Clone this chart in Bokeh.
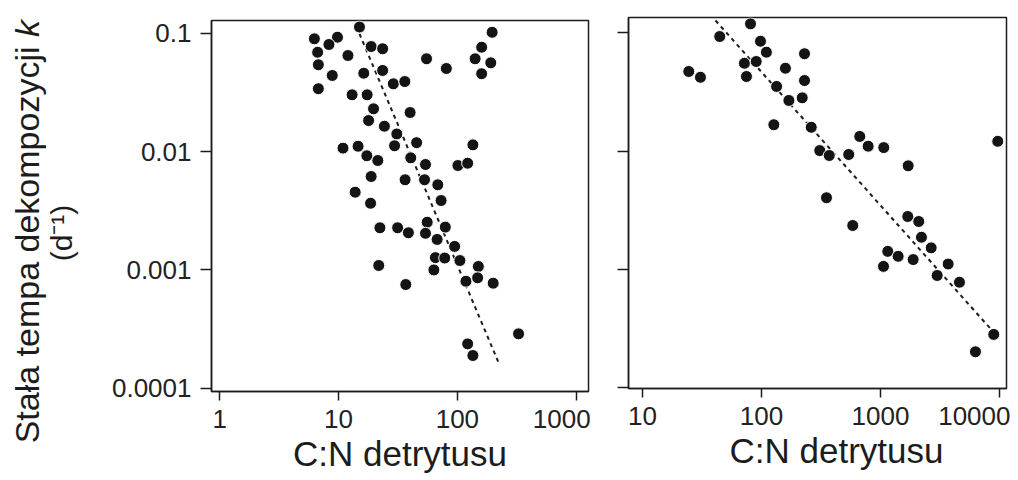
import math
from bokeh.plotting import figure
from bokeh.models import Range1d, FixedTicker, Title, Label
from bokeh.layouts import row
from bokeh.embed import file_html
from bokeh.resources import INLINE

# ---------------- data ----------------
y_ticks = [0.0001, 0.001, 0.01, 0.1]
y_tick_labels = ["0.0001", "0.001", "0.01", "0.1"]
left_x_ticks = [1, 10, 100, 1000]
left_x_tick_labels = ["1", "10", "100", "1000"]
right_x_ticks = [10, 100, 1000, 10000]
right_x_tick_labels = ["10", "100", "1000", "10000"]

left_cn = [15.0, 6.26, 9.79, 8.30, 6.67, 12.0, 6.76, 8.85, 6.76, 18.8,
           23.5, 16.3, 23.5, 28.9, 36.1, 13.0, 17.4, 19.7, 40.0, 17.9,
           24.3, 30.9, 29.6, 45.4, 10.9, 14.6, 17.3, 21.4, 40.5, 53.9,
           18.8, 36.3, 52.9, 68.4, 55.0, 80.7, 196, 160, 141, 191,
           160, 135, 101, 122, 13.8, 18.6, 72.9, 22.3, 31.4, 38.7,
           55.7, 79.1, 53.9, 67.5, 94.8, 65.3, 78.2, 105, 63.4, 150,
           21.8, 36.8, 118, 148, 200, 327, 122, 135]
left_k = [0.113, 0.0898, 0.0927, 0.0804, 0.0692, 0.0649, 0.0542, 0.0440, 0.0340, 0.0773,
          0.0740, 0.0460, 0.0485, 0.0374, 0.0391, 0.0302, 0.0302, 0.0230, 0.0214, 0.0183,
          0.0164, 0.0141, 0.0112, 0.0119, 0.0107, 0.0111, 0.00922, 0.00841, 0.00886, 0.00778,
          0.00616, 0.00578, 0.00578, 0.00524, 0.0609, 0.0504, 0.102, 0.0763, 0.0609, 0.0563,
          0.0455, 0.0114, 0.00763, 0.00798, 0.00454, 0.00366, 0.00386, 0.00227, 0.00227, 0.00206,
          0.00253, 0.00230, 0.00204, 0.00181, 0.00158, 0.00127, 0.00126, 0.00120, 0.00100, 0.00107,
          0.00109, 0.000752, 0.000802, 0.000857, 0.000772, 0.000288, 0.000237, 0.000189]
left_fit_cn = [15.0, 223]
left_fit_k = [0.099, 0.000163]

right_cn = [80.9, 44.6, 98.1, 110, 230, 71.9, 90.3, 24.5, 30.7, 74.8,
            159, 230, 134, 170, 220, 127, 262, 670, 788, 1066,
            309, 371, 541, 1709, 9676, 352, 585, 1696, 2098, 2211,
            2668, 1152, 1408, 1883, 1060, 3706, 2996, 4612, 8958, 6285]
right_k = [0.119, 0.0930, 0.0849, 0.0686, 0.0665, 0.0553, 0.0572, 0.0471, 0.0421, 0.0427,
           0.0502, 0.0395, 0.0352, 0.0268, 0.0282, 0.0167, 0.0159, 0.0133, 0.0110, 0.0107,
           0.0101, 0.00918, 0.00936, 0.00751, 0.0121, 0.00403, 0.00235, 0.00280, 0.00254, 0.00187,
           0.00152, 0.00142, 0.00129, 0.00121, 0.00106, 0.00111, 0.000888, 0.000779, 0.000282, 0.000201]
right_fit_cn = [41.1, 8684]
right_fit_k = [0.127, 0.000304]

x_title = "C:N detrytusu"
y_title_main = "Stała tempa dekompozycji"
y_title_var = "k"
y_title_unit = "(d\u207b\u00b9)"

# ---------------- layout / style ----------------
FONT = "Liberation Sans"
INK = "#1c1c1c"
H = 479
# in the original the outermost tick label of each panel is pulled inward
# so that it does not run past the plot edge
left_label_pos = [1, 10, 100, 755]
right_label_pos = [10, 100, 1000, 6300]


def no_align(p):
    try:
        p.frame_align = False
    except AttributeError:
        pass


def style_axis(ax, standoff):
    ax.major_tick_in = 0
    ax.minor_tick_in = 0
    ax.major_tick_line_color = INK
    ax.major_tick_line_width = 1.5
    ax.minor_tick_line_color = INK
    ax.minor_tick_line_width = 1.5
    ax.axis_line_color = INK
    ax.axis_line_width = 1.5
    ax.major_label_text_font = FONT
    ax.major_label_text_font_size = "26px"
    ax.major_label_text_color = "#222222"
    ax.major_label_standoff = standoff


def make_panel(width, borders, xr, yr, xt, xt_labels, label_pos, show_y_labels,
               title_align, title_offset, cn, k, fit_cn, fit_k):
    left, right, top, bottom = borders
    p = figure(width=width, height=H, x_axis_type="log", y_axis_type="log",
               x_range=Range1d(*xr), y_range=Range1d(*yr),
               toolbar_location=None, output_backend="svg",
               min_border_left=left, min_border_right=right,
               min_border_top=top, min_border_bottom=bottom,
               outline_line_color=INK, outline_line_width=1.5,
               background_fill_color="white", border_fill_color="white")
    no_align(p)
    p.grid.visible = False
    # x axis: tick marks at the decades (drawn as minor ticks), labels at label_pos
    xa = p.xaxis[0]
    xa.ticker = FixedTicker(ticks=label_pos, minor_ticks=xt)
    xa.major_label_overrides = {pos: lab for pos, lab in zip(label_pos, xt_labels)}
    style_axis(xa, 9)
    xa.major_tick_out = 0
    xa.major_tick_line_color = None
    xa.minor_tick_out = 9
    ya = p.yaxis[0]
    ya.ticker = FixedTicker(ticks=y_ticks, minor_ticks=[])
    ya.minor_tick_out = 0
    ya.major_tick_out = 11
    if show_y_labels:
        ya.major_label_overrides = {t: lab for t, lab in zip(y_ticks, y_tick_labels)}
        style_axis(ya, 9)
    else:
        ya.major_label_overrides = {t: "" for t in y_ticks}
        style_axis(ya, 12)
    p.line(fit_cn, fit_k, line_dash="4 4", line_width=2, line_color=INK)
    p.scatter(cn, k, size=12, fill_color="#141414", line_color="white", line_width=1)
    p.add_layout(Title(text=x_title, align=title_align, offset=title_offset,
                       text_font=FONT, text_font_size="35px", text_font_style="normal",
                       text_color=INK, standoff=3), "below")
    return p


# strip for the y-axis title (data units = pixels, y measured from the bottom)
W0 = 108
lab = figure(width=W0, height=H, x_range=Range1d(0, W0), y_range=Range1d(0, H),
             toolbar_location=None, output_backend="svg", min_border=0,
             x_axis_location=None, y_axis_location=None, outline_line_color=None)
no_align(lab)
lab.grid.visible = False
lab.add_layout(Label(x=26, y=H - 46, text=y_title_main, angle=math.pi / 2,
                     text_align="right", text_baseline="alphabetic",
                     text_font=FONT, text_font_size="34px", text_color=INK))
lab.add_layout(Label(x=26, y=H - 36.5, text=y_title_var, angle=math.pi / 2,
                     text_align="left", text_baseline="alphabetic",
                     text_font=FONT, text_font_size="34px", text_font_style="italic",
                     text_color=INK))
lab.add_layout(Label(x=61, y=H - 232.5, text=y_title_unit, angle=math.pi / 2,
                     text_align="center", text_baseline="alphabetic",
                     text_font=FONT, text_font_size="30px", text_color=INK))

p1 = make_panel(492, (99, 12, 20, H - 391), (0.853, 1268), (9.38e-5, 0.1283),
                left_x_ticks, left_x_tick_labels, left_label_pos, True, "center", 0,
                left_cn, left_k, left_fit_cn, left_fit_k)

p2 = make_panel(410, (28, 4, 17, H - 388), (7.63, 11460), (9.84e-5, 0.1347),
                right_x_ticks, right_x_tick_labels, right_label_pos, False, "left", 101,
                right_cn, right_k, right_fit_cn, right_fit_k)

layout = row(lab, p1, p2)
open("out.html", "w").write(file_html(layout, INLINE))
